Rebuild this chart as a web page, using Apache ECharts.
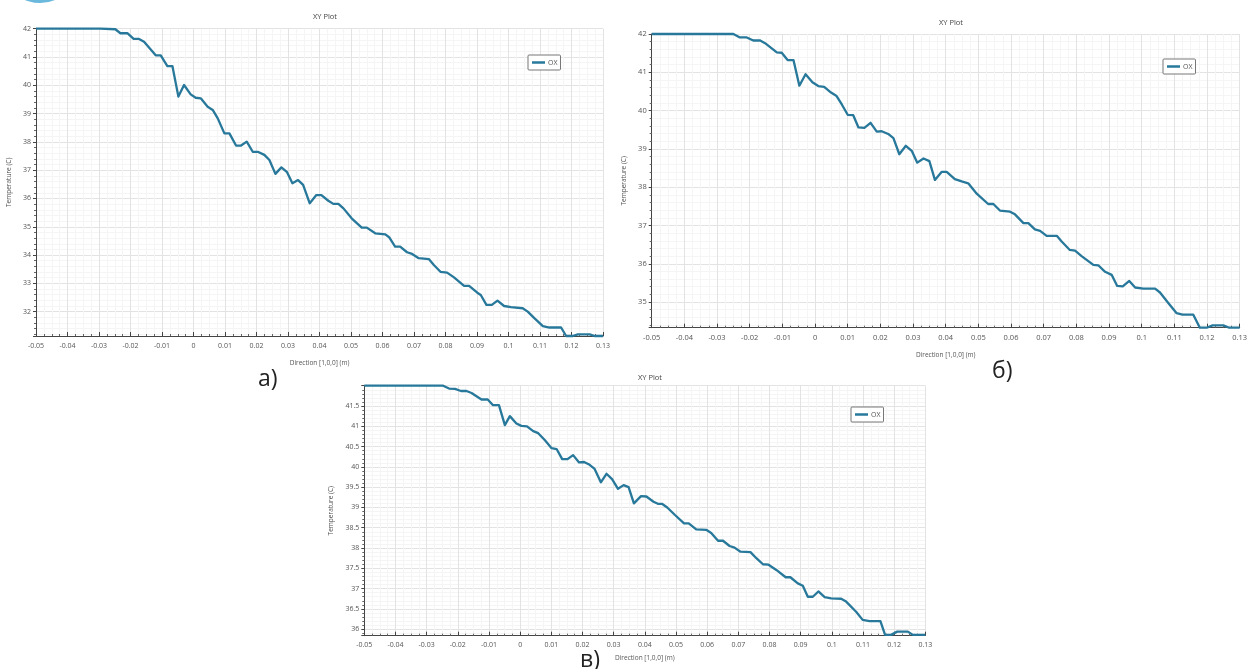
<!DOCTYPE html>
<html>
<head>
<meta charset="utf-8">
<script src="https://cdn.jsdelivr.net/npm/echarts@6/dist/echarts.min.js"></script>
<style>
  html, body { margin: 0; padding: 0; background: #fff; }
  #chart { width: 1257px; height: 669px; }
</style>
</head>
<body>
<div id="chart"></div>
<script>
// Temperature profiles along the [1,0,0] direction, three cases.
const xRange = [-0.05, 0.13];
const xStep = 0.01;

// case а)
const xA = [-0.05, -0.0296, -0.0248, -0.0232, -0.021, -0.019, -0.0173, -0.0157, -0.012, -0.0104,
  -0.0083, -0.0067, -0.0048, -0.003, -0.0009, 0.0007, 0.0023, 0.0045, 0.0061, 0.0077,
  0.0098, 0.0114, 0.0135, 0.0151, 0.0169, 0.0188, 0.0204, 0.0225, 0.0241, 0.026,
  0.0279, 0.0297, 0.0314, 0.0332, 0.0348, 0.0369, 0.039, 0.0406, 0.0428, 0.0444,
  0.046, 0.0476, 0.0502, 0.0534, 0.055, 0.0577, 0.0609, 0.0621, 0.064, 0.0656,
  0.0678, 0.0694, 0.0715, 0.0747, 0.0763, 0.0784, 0.0805, 0.0827, 0.0859, 0.0875,
  0.0901, 0.0912, 0.093, 0.0947, 0.0965, 0.0986, 0.1008, 0.1045, 0.1061, 0.1082,
  0.1109, 0.113, 0.1167, 0.1183, 0.1204, 0.122, 0.1258, 0.1273, 0.13];
const tA = [42, 42, 41.98, 41.84, 41.84, 41.64, 41.64, 41.54, 41.06, 41.06,
  40.68, 40.68, 39.6, 40.01, 39.68, 39.56, 39.54, 39.24, 39.13, 38.83,
  38.3, 38.3, 37.87, 37.87, 38.01, 37.65, 37.65, 37.54, 37.36, 36.87,
  37.1, 36.93, 36.54, 36.65, 36.48, 35.83, 36.12, 36.12, 35.92, 35.81,
  35.81, 35.65, 35.3, 34.97, 34.97, 34.77, 34.73, 34.63, 34.3, 34.3,
  34.1, 34.04, 33.89, 33.86, 33.65, 33.41, 33.38, 33.21, 32.91, 32.91,
  32.67, 32.59, 32.24, 32.24, 32.39, 32.2, 32.16, 32.12, 32.0, 31.77,
  31.49, 31.44, 31.44, 31.14, 31.14, 31.2, 31.2, 31.14, 31.14];
const yRangeA = [31.14, 42];

// case б)
const xB = [-0.05, -0.025, -0.023, -0.0209, -0.0189, -0.0168, -0.0153, -0.0117, -0.0102, -0.0084,
  -0.0066, -0.0048, -0.0029, -0.0008, 0.001, 0.0028, 0.0049, 0.0066, 0.0082, 0.01,
  0.0117, 0.0133, 0.0151, 0.017, 0.0189, 0.0204, 0.0224, 0.024, 0.0258, 0.0278,
  0.0296, 0.0313, 0.0332, 0.035, 0.0367, 0.0388, 0.0403, 0.0428, 0.0449, 0.0469,
  0.0495, 0.053, 0.0546, 0.0566, 0.0597, 0.0612, 0.0638, 0.0653, 0.0673, 0.0689,
  0.0709, 0.074, 0.0755, 0.078, 0.0796, 0.0816, 0.0852, 0.0867, 0.0888, 0.0908,
  0.0925, 0.0942, 0.0962, 0.098, 0.1005, 0.1041, 0.1056, 0.1082, 0.1107, 0.1125,
  0.1158, 0.1178, 0.1199, 0.1217, 0.125, 0.1268, 0.13];
const tB = [42, 42, 41.91, 41.91, 41.83, 41.83, 41.76, 41.52, 41.51, 41.32,
  41.32, 40.65, 40.95, 40.74, 40.64, 40.62, 40.47, 40.38, 40.16, 39.89,
  39.88, 39.56, 39.55, 39.68, 39.45, 39.46, 39.39, 39.28, 38.86, 39.08,
  38.95, 38.64, 38.75, 38.68, 38.19, 38.4, 38.4, 38.21, 38.15, 38.1,
  37.83, 37.56, 37.56, 37.39, 37.36, 37.29, 37.06, 37.06, 36.9, 36.86,
  36.73, 36.73, 36.58, 36.36, 36.34, 36.2, 35.97, 35.96, 35.79, 35.71,
  35.42, 35.41, 35.55, 35.38, 35.35, 35.35, 35.25, 34.97, 34.71, 34.67,
  34.67, 34.33, 34.33, 34.39, 34.39, 34.33, 34.33];
const yRangeB = [34.33, 42];

// case в)
const xC = [-0.05, -0.0247, -0.0228, -0.0209, -0.019, -0.0172, -0.0156, -0.0124, -0.0104, -0.0087,
  -0.0068, -0.0049, -0.0033, -0.0012, 0.0004, 0.0022, 0.0042, 0.0058, 0.0079, 0.0101,
  0.0117, 0.0135, 0.0152, 0.017, 0.0189, 0.0205, 0.0223, 0.0239, 0.0259, 0.0277,
  0.0295, 0.0314, 0.0332, 0.0348, 0.0365, 0.0388, 0.0405, 0.0428, 0.0442, 0.0455,
  0.0472, 0.0496, 0.0526, 0.0541, 0.0565, 0.0597, 0.0613, 0.0635, 0.0651, 0.0672,
  0.0688, 0.0707, 0.0739, 0.0758, 0.0779, 0.0797, 0.0822, 0.0852, 0.0867, 0.0891,
  0.0907, 0.0923, 0.0939, 0.0957, 0.0977, 0.0998, 0.103, 0.1046, 0.1078, 0.1099,
  0.1121, 0.1156, 0.1171, 0.119, 0.121, 0.1244, 0.126, 0.13];
const tC = [42, 42, 41.93, 41.92, 41.87, 41.87, 41.82, 41.66, 41.66, 41.52,
  41.52, 41.03, 41.25, 41.07, 41.01, 41.0, 40.88, 40.83, 40.66, 40.46,
  40.44, 40.19, 40.19, 40.29, 40.11, 40.12, 40.05, 39.95, 39.62, 39.83,
  39.7, 39.46, 39.55, 39.5, 39.1, 39.28, 39.27, 39.14, 39.09, 39.09,
  39.0, 38.82, 38.61, 38.61, 38.46, 38.45, 38.37, 38.18, 38.18, 38.05,
  38.01, 37.91, 37.9, 37.75, 37.6, 37.59, 37.46, 37.28, 37.28, 37.13,
  37.07, 36.8, 36.8, 36.93, 36.79, 36.76, 36.75, 36.68, 36.43, 36.23,
  36.2, 36.2, 35.86, 35.86, 35.94, 35.94, 35.86, 35.86];
const yRangeC = [35.84, 42];

const seriesName = 'OX';
const titleText = 'XY Plot';
const xName = 'Direction [1,0,0] (m)';
const yName = 'Temperature (C)';
const panelLetters = ['а)', 'б)', 'в)'];

// ---- layout and style ----
const LINE_COLOR = '#27789a';
const FONT = '"Open Sans", "Noto Sans", sans-serif';

const panels = [
  { x: xA, t: tA, yr: yRangeA, split: 10, showMax: true,
    grid: { left: 36, top: 28.7, width: 567, height: 307.3 },
    title: [320, 8], legend: [528, 55], yGap: 23, xGap: 24, fs: 7 },
  { x: xB, t: tB, yr: yRangeB, split: 7, showMax: true,
    grid: { left: 651.7, top: 34, width: 588, height: 293.7 },
    title: [946, 14], legend: [1163, 59], yGap: 24, xGap: 24, fs: 7.5 },
  { x: xC, t: tC, yr: yRangeC, split: 12, showMax: false,
    grid: { left: 364.3, top: 385.7, width: 561, height: 250 },
    title: [645, 369], legend: [851, 407], yGap: 30, xGap: 19, fs: 7 }
];

const letterPos = [[258, 368], [992, 360], [580, 649]];

const option = {
  backgroundColor: '#fff',
  animation: false,
  textStyle: { fontFamily: FONT },
  title: panels.map(p => ({
    text: titleText, left: p.title[0], top: p.title[1], textAlign: 'center',
    textStyle: { fontSize: 7.5, fontWeight: 'normal', color: '#444', fontFamily: FONT }
  })),
  legend: panels.map(p => ({
    data: [seriesName], left: p.legend[0], top: p.legend[1],
    orient: 'vertical', icon: 'rect', itemWidth: 13, itemHeight: 2.5, itemGap: 0,
    padding: [4, 3, 4, 4], borderColor: '#777', borderWidth: 1, borderRadius: 1,
    backgroundColor: '#fff', selectedMode: false,
    textStyle: { fontSize: 7, color: '#555', fontFamily: FONT, padding: [0, 0, 0, -2] }
  })),
  grid: panels.map(p => Object.assign({ containLabel: false }, p.grid)),
  xAxis: panels.map((p, i) => ({
    type: 'value', gridIndex: i, min: xRange[0], max: xRange[1], interval: xStep,
    name: xName, nameLocation: 'middle', nameGap: p.xGap,
    nameTextStyle: { fontSize: 6.5, color: '#555', fontFamily: FONT },
    axisLine: { show: true, onZero: false, lineStyle: { color: '#444', width: 1 } },
    axisTick: { show: true, inside: true, length: 4, lineStyle: { color: '#444' } },
    minorTick: { show: true, splitNumber: 4, length: 2, lineStyle: { color: '#666' } },
    axisLabel: { fontSize: p.fs, color: '#555', margin: 6, fontFamily: FONT },
    splitLine: { show: true, lineStyle: { color: '#e3e3e3', width: 1 } },
    minorSplitLine: { show: true, lineStyle: { color: '#f5f5f5', width: 1 } }
  })),
  yAxis: panels.map((p, i) => ({
    type: 'value', gridIndex: i, min: p.yr[0], max: p.yr[1], splitNumber: p.split,
    name: yName, nameLocation: 'middle', nameGap: p.yGap, nameRotate: 90,
    nameTextStyle: { fontSize: 6.5, color: '#555', fontFamily: FONT },
    axisLine: { show: true, onZero: false, lineStyle: { color: '#444', width: 1 } },
    axisTick: { show: true, inside: false, length: 3, lineStyle: { color: '#444' } },
    minorTick: { show: true, splitNumber: 5, length: 2, lineStyle: { color: '#666' } },
    axisLabel: { fontSize: p.fs, color: '#555', margin: 5, showMinLabel: false,
      showMaxLabel: p.showMax, fontFamily: FONT },
    splitLine: { show: true, lineStyle: { color: '#e3e3e3', width: 1 } },
    minorSplitLine: { show: true, lineStyle: { color: '#f5f5f5', width: 1 } }
  })),
  series: panels.map((p, i) => ({
    name: seriesName, type: 'line', xAxisIndex: i, yAxisIndex: i,
    data: p.x.map((v, k) => [v, p.t[k]]),
    showSymbol: false, symbol: 'none', clip: false,
    lineStyle: { color: LINE_COLOR, width: 2.3, join: 'round' },
    itemStyle: { color: LINE_COLOR }
  })),
  graphic: [
    // corner emblem fragment
    { type: 'arc', shape: { cx: 40, cy: -36, r: 37.5, startAngle: 0.3, endAngle: Math.PI - 0.3 },
      style: { stroke: '#6bb8dd', lineWidth: 3, fill: null }, silent: true },
    ...panelLetters.map((s, i) => ({
      type: 'text', left: letterPos[i][0], top: letterPos[i][1], silent: true,
      style: { text: s, fontSize: 23, fill: '#222', fontFamily: FONT }
    }))
  ]
};

const chart = echarts.init(document.getElementById('chart'), null, { renderer: 'canvas' });
chart.setOption(option);
</script>
</body>
</html>
